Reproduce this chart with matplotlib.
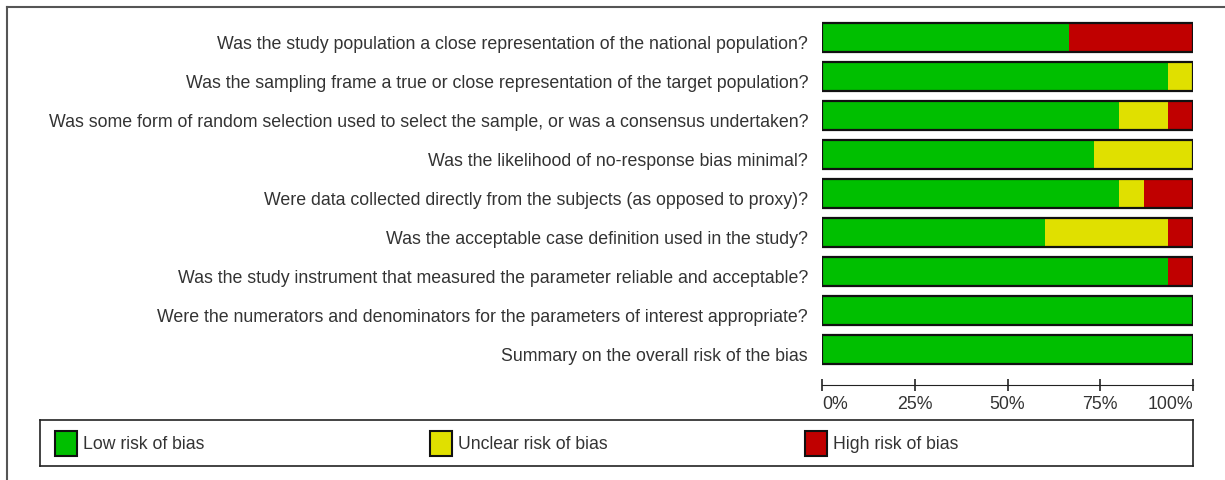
import numpy as np
import matplotlib.pyplot as plt
import matplotlib.transforms as mtransforms
from matplotlib.patches import Rectangle
from matplotlib.lines import Line2D

plt.rcParams['font.family'] = ['Liberation Sans', 'DejaVu Sans']

# 질문 항목 (위에서 아래 순서)
questions = [
    'Was the study population a close representation of the national population?',
    'Was the sampling frame a true or close representation of the target population?',
    'Was some form of random selection used to select the sample, or was a consensus undertaken?',
    'Was the likelihood of no-response bias minimal?',
    'Were data collected directly from the subjects (as opposed to proxy)?',
    'Was the acceptable case definition used in the study?',
    'Was the study instrument that measured the parameter reliable and acceptable?',
    'Were the numerators and denominators for the parameters of interest appropriate?',
    'Summary on the overall risk of the bias',
]

# 비율 (%)
low = [66.7, 93.3, 80.0, 73.3, 80.0, 60.0, 93.3, 100.0, 100.0]
unclear = [0.0, 6.7, 13.3, 26.7, 6.7, 33.3, 0.0, 0.0, 0.0]
high = [33.3, 0.0, 6.7, 0.0, 13.3, 6.7, 6.7, 0.0, 0.0]

legend_labels = ['Low risk of bias', 'Unclear risk of bias', 'High risk of bias']
colors = ['#00BF00', '#E0E000', '#C00000']
tick_vals = [0, 25, 50, 75, 100]
tick_labels = ['0%', '25%', '50%', '75%', '100%']

W, H = 1225, 481
fig = plt.figure(figsize=(W / 100, H / 100), dpi=100)

# 바깥 테두리
fig.add_artist(Line2D([7 / W, 7 / W], [0, 1 - 8 / H], color='#555555', lw=1.5))
fig.add_artist(Line2D([7 / W, 1], [1 - 8 / H, 1 - 8 / H], color='#555555', lw=1.5))

# 막대 그래프
ax = fig.add_axes([822 / W, 1 - 370 / H, 371 / W, 351 / H])
y = np.arange(len(questions))
low = np.array(low)
unclear = np.array(unclear)
high = np.array(high)
ax.barh(y, low, height=0.75, color=colors[0], lw=0)
ax.barh(y, unclear, left=low, height=0.75, color=colors[1], lw=0)
ax.barh(y, high, left=low + unclear, height=0.75, color=colors[2], lw=0)
ax.barh(y, low + unclear + high, height=0.75, facecolor='none', edgecolor='#111111', lw=1.6)
ax.set_xlim(0, 100)
ax.set_ylim(len(questions) - 0.5, -0.5)
ax.set_yticks(y)
ax.set_yticklabels(questions, fontsize=12.8, color='#333333')
ax.tick_params(axis='y', length=0, pad=10)
# 글자를 살짝 아래로
shift = mtransforms.ScaledTranslation(0, -4 / 100, fig.dpi_scale_trans)
for t in ax.get_yticklabels():
    t.set_transform(t.get_transform() + shift)

for s in ['top', 'right', 'left']:
    ax.spines[s].set_visible(False)
ax.spines['bottom'].set_position(('outward', 11.5))
ax.spines['bottom'].set_color('#222222')
ax.set_xticks(tick_vals)
ax.set_xticklabels(tick_labels, fontsize=12.8, color='#333333')
ax.tick_params(axis='x', direction='inout', length=9, width=1.2, color='#222222', pad=3)
tl = ax.get_xticklabels()
tl[0].set_ha('left')
tl[-1].set_ha('right')

# 범례 박스
lax = fig.add_axes([40 / W, 1 - 467 / H, 1153 / W, 46 / H])
lax.set_xlim(0, 1153)
lax.set_ylim(0, 46)
lax.set_xticks([])
lax.set_yticks([])
for s in lax.spines.values():
    s.set_color('#222222')
    s.set_linewidth(1.2)
for i, (lab, c) in enumerate(zip(legend_labels, colors)):
    x0 = 15 + i * 375
    lax.add_patch(Rectangle((x0, 10), 22, 25, facecolor=c, edgecolor='#111111', lw=1.5))
    lax.text(x0 + 28, 22.5, lab, va='center', ha='left', fontsize=12.7, color='#333333')

plt.savefig('out.png', dpi=100)
